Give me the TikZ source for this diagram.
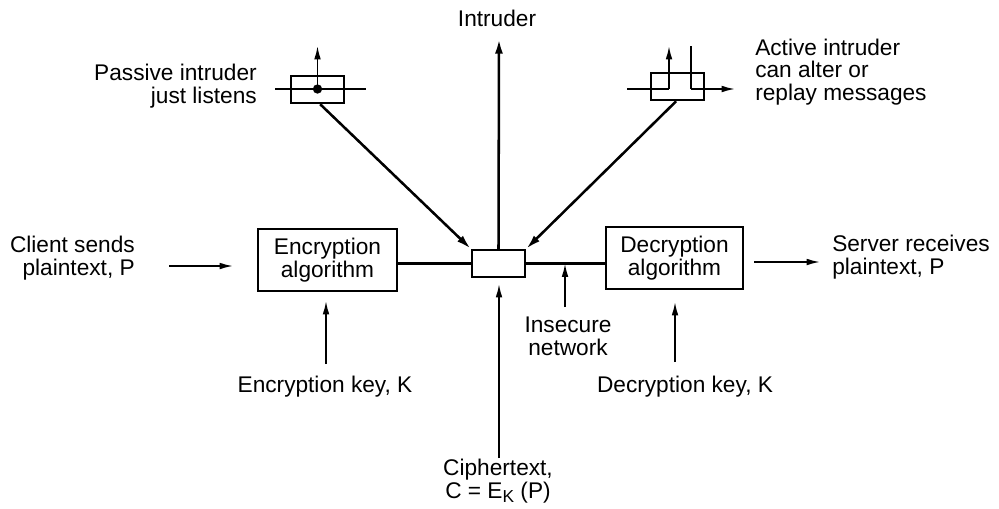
\documentclass[tikz,border=0pt]{standalone}
\usepackage{fontspec}
\setmainfont{Liberation Sans}
\usetikzlibrary{arrows.meta}
\begin{document}
\begin{tikzpicture}[x=0.75pt,y=-0.75pt,
  lbl/.style={font=\fontsize{17}{17}\selectfont, inner sep=0pt},
  boxbig/.style={draw, line width=1.8pt, inner sep=0pt, minimum height=46.5pt, align=center, font=\fontsize{17}{17}\selectfont},
  boxsmall/.style={draw, line width=1.8pt, inner sep=0pt, minimum width=39.75pt, minimum height=20.25pt},
  wire/.style={line width=1.6pt},
  arr/.style={line width=1.2pt, -{Latex[length=10pt,width=5pt]}},
  darr/.style={line width=1.9pt, -{Latex[length=11pt,width=6pt]}}
]
\useasboundingbox (0,0) rectangle (999,508);

% boxes
\node[boxbig, minimum width=104.25pt] (enc) at (327.5,260) {Encryption\\algorithm};
\node[boxbig, minimum width=102.75pt] (dec) at (674.5,258) {Decryption\\algorithm};
\node[boxsmall] (mid) at (498.5,263.5) {};
\node[boxsmall] (pass) at (317.5,89.5) {};
\node[boxsmall] (act) at (677.5,86.5) {};

% labels
\node[lbl] (intr) at (497,18) {Intruder};
\node[lbl, anchor=east, align=right] (cl) at (135,258) {Client sends\\plaintext, P};
\node[lbl, anchor=west, align=left] (srv) at (832,257) {Server receives\\plaintext, P};
\node[lbl, anchor=east, align=right] (plbl) at (257,86) {Passive intruder\\just listens};
\node[lbl, anchor=west, align=left] (albl) at (755,72) {Active intruder\\can alter or\\replay messages};
\node[lbl, align=center] (ins) at (568,336) {Insecure\\network};
\node[lbl] (ekey) at (325,387) {Encryption key, K};
\node[lbl] (dkey) at (685,387) {Decryption key, K};
\node[lbl, align=center] (ctext) at (498,481) {Ciphertext,\\C = E\raisebox{-0.35ex}{\fontsize{13}{13}\selectfont K} (P)};

% coordinates
\coordinate (clA) at (169,266);
\coordinate (clB) at (233,266);
\coordinate (dcA) at (754,262);
\coordinate (dcB) at (820,262);
\coordinate (intrTip) at (499,39);
\coordinate (netPt) at (565,263.5);
\coordinate (netBot) at (565,307);
\coordinate (ekBot) at (326,364);
\coordinate (ekTip) at (326,301);
\coordinate (dkBot) at (675,362);
\coordinate (dkTip) at (675,302);
\coordinate (ctBot) at (499,458);
\coordinate (ctTip) at (499,284);
\coordinate (pL) at (275,89);
\coordinate (pR) at (366,89);
\coordinate (pDot) at (317.5,89);
\coordinate (pTip) at (317.5,46);
\coordinate (aL) at (627,89);
\coordinate (aM) at (669,89);
\coordinate (aTip) at (669,46);
\coordinate (bTop) at (691,46);
\coordinate (bM) at (691,89);
\coordinate (bTip) at (735,89);

% wires
\draw[wire] (enc.east |- mid.west) -- (mid.west);
\draw[wire] (mid.east) -- (dec.west |- mid.east);
\draw[arr] (clA) -- (clB);
\draw[arr] (dcA) -- (dcB);
\draw[arr] (netBot) -- (netPt);
\draw[arr] (ekBot) -- (ekTip);
\draw[arr] (dkBot) -- (dkTip);
\draw[arr] (ctBot) -- (ctTip);
\draw[darr] (mid.north) -- (intrTip);
\draw[darr] ([xshift=2pt]pass.south) -- (mid.north west);
\draw[darr] ([xshift=-1pt]act.south) -- (mid.north east);

% passive intruder tap
\draw[wire] (pL) -- (pR);
\fill (pDot) circle (3.5pt);
\draw[arr] (pDot) -- (pTip);

% active intruder
\draw[wire] (aL) -- (aM);
\draw[arr] (aM) -- (aTip);
\draw[wire] (bTop) -- (bM);
\draw[arr] (bM) -- (bTip);
\end{tikzpicture}
\end{document}
